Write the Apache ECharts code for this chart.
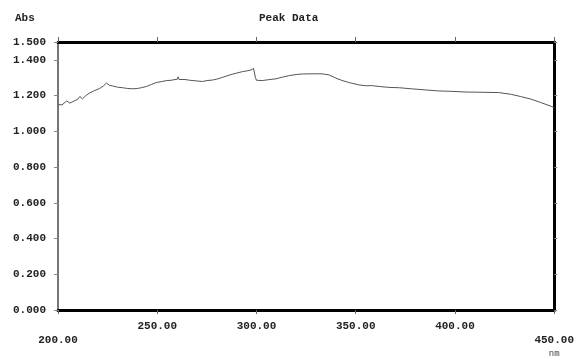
<!DOCTYPE html>
<html>
<head>
<meta charset="utf-8">
<script src="https://cdn.jsdelivr.net/npm/echarts@6/dist/echarts.min.js"></script>
<style>
html,body{margin:0;padding:0;background:#fff;}
#chart{width:577px;height:358px;}
</style>
</head>
<body>
<div id="chart"></div>
<script>
// Wavelength (nm)
var wavelength = [200,201,202,203,204.4,205,206,207,208.5,210,211,211.9,212.3,214,216,218,221,223,224.4,226,227.6,230,232.6,235,237.7,240,242,244.5,247,249.5,252,254.6,257,260.2,260.5,261,264,266.3,269,272.8,275,277.8,280,282.8,285,287.9,290,292.9,295,297.2,298.5,298.9,299.5,300,302.9,306,309.8,313,316.5,320,323,328,333,336.5,340,343,347,351.6,355,358,362,366.7,372,378,385,391.8,398,405.2,412,422,428.4,433,438.4,443,448.5,450];
// Absorbance
var absorbance = [1.150,1.139,1.148,1.142,1.170,1.160,1.158,1.168,1.172,1.180,1.195,1.205,1.182,1.200,1.215,1.226,1.240,1.255,1.270,1.257,1.254,1.247,1.244,1.240,1.238,1.240,1.244,1.251,1.262,1.273,1.278,1.284,1.286,1.292,1.305,1.290,1.290,1.286,1.283,1.279,1.284,1.287,1.292,1.302,1.310,1.320,1.326,1.334,1.338,1.343,1.352,1.358,1.300,1.286,1.284,1.289,1.294,1.303,1.312,1.318,1.321,1.322,1.322,1.316,1.298,1.285,1.272,1.260,1.255,1.256,1.251,1.246,1.244,1.238,1.232,1.226,1.224,1.220,1.219,1.217,1.207,1.195,1.180,1.162,1.140,1.132];
var xTicks = [200,250,300,350,400,450];
var yTicks = [0,0.2,0.4,0.6,0.8,1.0,1.2,1.4,1.5];
var titleText = 'Peak Data';
var yUnit = 'Abs';
var xUnit = 'nm';

var data = wavelength.map(function(w,i){return [w,absorbance[i]];});
var FONT = '"Liberation Mono", "DejaVu Sans Mono", monospace';
var chart = echarts.init(document.getElementById('chart'));
var xMin = xTicks[0], xMax = xTicks[xTicks.length-1];
var xInt = xTicks[1]-xTicks[0];
var yMax = yTicks[yTicks.length-1];

chart.setOption({
  animation:false,
  backgroundColor:'#ffffff',
  title:[
    {text:titleText,left:254,top:8,textStyle:{fontFamily:FONT,fontSize:11,fontWeight:'bold',color:'#222'}},
    {text:yUnit,left:10,top:8,textStyle:{fontFamily:FONT,fontSize:11,fontWeight:'bold',color:'#222'}}
  ],
  grid:{left:58,right:21,top:42,bottom:47,containLabel:false},
  xAxis:[{
    type:'value',min:xMin,max:xMax,interval:xInt,position:'bottom',
    axisLine:{show:true,onZero:false,lineStyle:{color:'#000',width:3}},
    axisTick:{show:true,inside:false,length:4,lineStyle:{color:'#666',width:1}},
    splitLine:{show:false},
    axisLabel:{
      margin:11,
      formatter:function(v){
        var s=v.toFixed(2);
        if(v===xMin) return '{e|'+s+'}';
        if(v===xMax) return '{e|'+s+'}\n{u|'+xUnit+'}';
        return '{m|'+s+'}';
      },
      rich:{
        m:{fontFamily:FONT,fontSize:11,fontWeight:'bold',color:'#222'},
        e:{fontFamily:FONT,fontSize:11,fontWeight:'bold',color:'#222',padding:[14,0,0,0]},
        u:{fontFamily:FONT,fontSize:9,color:'#444',lineHeight:15}
      }
    }
  },{
    type:'value',min:xMin,max:xMax,interval:xInt,position:'top',
    axisLine:{show:true,onZero:false,lineStyle:{color:'#000',width:3}},
    axisTick:{show:true,inside:false,length:5,lineStyle:{color:'#666',width:1}},
    axisLabel:{show:false},splitLine:{show:false}
  }],
  yAxis:[{
    type:'value',min:0,max:yMax,interval:0.2,position:'left',
    axisLine:{show:true,onZero:false,lineStyle:{color:'#777',width:2}},
    axisTick:{show:true,inside:false,length:4,lineStyle:{color:'#888',width:1}},
    splitLine:{show:false},
    axisLabel:{margin:12,fontFamily:FONT,fontSize:11,fontWeight:'bold',color:'#222',
      formatter:function(v){return v.toFixed(3);}}
  },{
    type:'value',min:0,max:yMax,interval:0.2,position:'right',
    axisLine:{show:true,onZero:false,lineStyle:{color:'#000',width:3}},
    axisTick:{show:true,inside:false,length:3,lineStyle:{color:'#888',width:1}},
    axisLabel:{show:false},splitLine:{show:false}
  }],
  series:[{
    type:'line',data:data,xAxisIndex:0,yAxisIndex:0,
    showSymbol:false,smooth:false,
    lineStyle:{color:'#555',width:1}
  }]
});
</script>
</body>
</html>
